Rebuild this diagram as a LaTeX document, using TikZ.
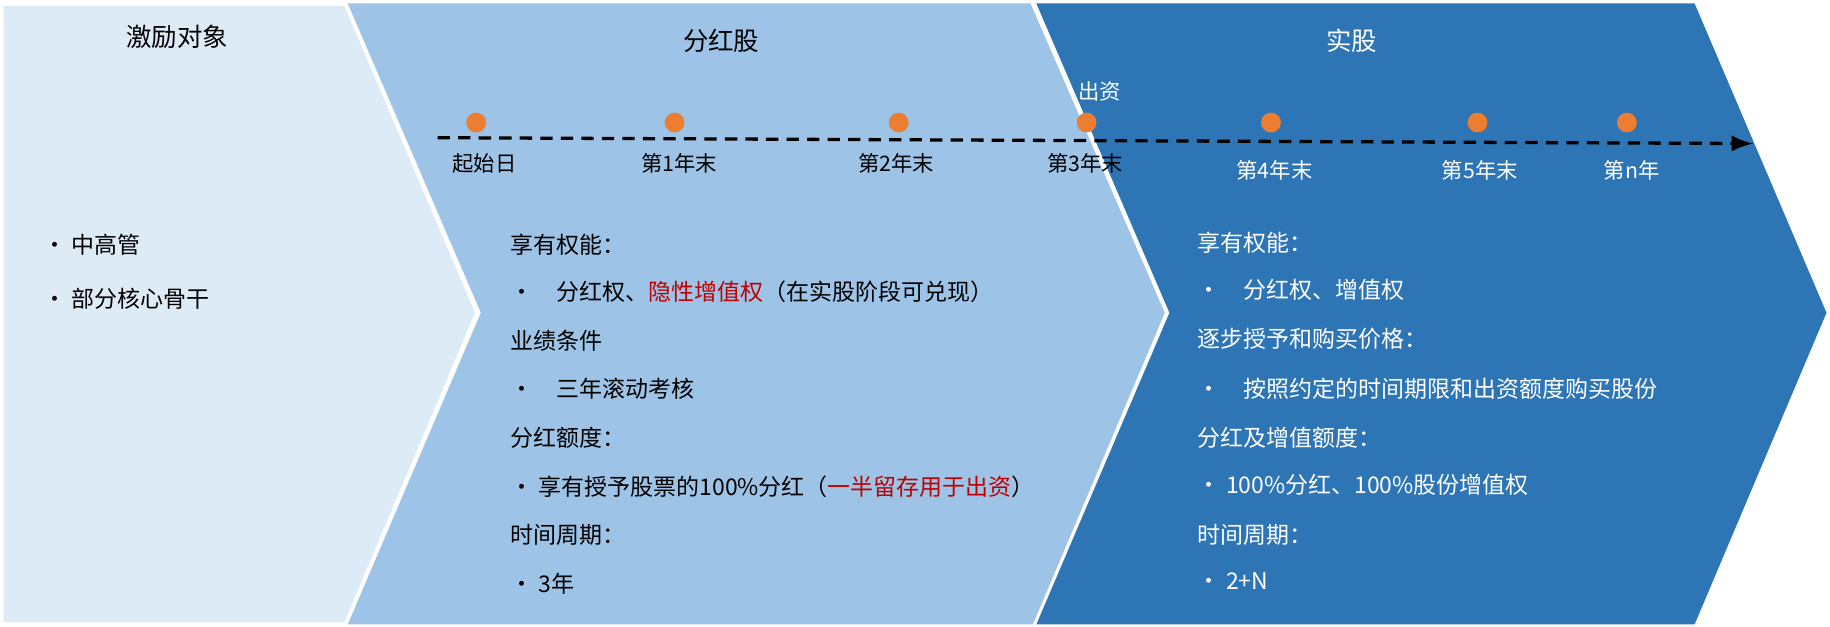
\documentclass[tikz,border=0pt]{standalone}
\usepackage{fontspec}
\setmainfont{Noto Sans CJK SC}
\definecolor{paleblue}{HTML}{DDEBF7}
\definecolor{midblue}{HTML}{9DC3E6}
\definecolor{deepblue}{HTML}{2E75B6}
\definecolor{dotorange}{HTML}{ED7D31}
\definecolor{darkred}{HTML}{C00000}
\tikzset{
  headtext/.style={font=\fontsize{6.2}{7}\selectfont},
  bodytext/.style={anchor=west, font=\fontsize{5.6}{7}\selectfont},
  ticktext/.style={font=\fontsize{5.2}{6}\selectfont},
  yeardot/.style={circle, fill=dotorange, minimum width=0.17cm, minimum height=0.14cm, inner sep=0pt}
}
\begin{document}
\begin{tikzpicture}[x=0.01cm, y=-0.01cm]
  \useasboundingbox (0,0) rectangle (1568,537);
  % chevrons
  \fill[paleblue] (3,5) -- (295,5) -- (407,268) -- (295,533) -- (3,533) -- cycle;
  \fill[midblue] (298,3) -- (883,3) -- (998,268) -- (885,535) -- (298,535) -- (412,268) -- cycle;
  \fill[deepblue] (888,3) -- (1452,3) -- (1565,268) -- (1452,535) -- (888,535) -- (1002,268) -- cycle;

  % headers
  \node[headtext] (hdA) at (152,32) {激励对象};
  \node[headtext] (hdB) at (618,35) {分红股};
  \node[headtext, white] (hdC) at (1158,35) {实股};

  % timeline
  \coordinate (tlS) at (375,118);
  \coordinate (tlE) at (1502,123);
  \draw[densely dashed, thick, -latex] (tlS) -- (tlE);
  \foreach \px/\name in {408/d0, 578/d1, 770/d2, 931/d3, 1089/d4, 1266/d5, 1394/d6}
    \node[yeardot] (\name) at (\px,105) {};
  \node[ticktext] (t0) at (415,140) {起始日};
  \node[ticktext] (t1) at (582,140) {第1年末};
  \node[ticktext] (t2) at (768,140) {第2年末};
  \node[ticktext] (t3) at (930,140) {第3年末};
  \node[ticktext, white] (t4) at (1092,146) {第4年末};
  \node[ticktext, white] (t5) at (1268,146) {第5年末};
  \node[ticktext, white] (t6) at (1398,146) {第n年};
  \node[ticktext, white] (pay) at (942,78) {出资};

  % left column
  \node[bodytext] (a1) at (25,210) {• 中高管};
  \node[bodytext] (a2) at (25,256) {• 部分核心骨干};

  % middle column
  \node[bodytext] (b1) at (425,210) {享有权能：};
  \node[bodytext] (b2) at (425,250) {•\quad 分红权、\textcolor{darkred}{隐性增值权}（在实股阶段可兑现）};
  \node[bodytext] (b3) at (425,292) {业绩条件};
  \node[bodytext] (b4) at (425,333) {•\quad 三年滚动考核};
  \node[bodytext] (b5) at (425,375) {分红额度：};
  \node[bodytext] (b6) at (425,417) {• 享有授予股票的100\%分红（\textcolor{darkred}{一半留存用于出资}）};
  \node[bodytext] (b7) at (425,458) {时间周期：};
  \node[bodytext] (b8) at (425,500) {• 3年};

  % right column
  \begin{scope}[every node/.append style={white}]
    \node[bodytext] (c1) at (1014,208) {享有权能：};
    \node[bodytext] (c2) at (1014,248) {•\quad 分红权、增值权};
    \node[bodytext] (c3) at (1014,290) {逐步授予和购买价格：};
    \node[bodytext] (c4) at (1014,333) {•\quad 按照约定的时间期限和出资额度购买股份};
    \node[bodytext] (c5) at (1014,375) {分红及增值额度：};
    \node[bodytext] (c6) at (1014,415) {• 100\%分红、100\%股份增值权};
    \node[bodytext] (c7) at (1014,458) {时间周期：};
    \node[bodytext] (c8) at (1014,498) {• 2+N};
  \end{scope}
\end{tikzpicture}
\end{document}
